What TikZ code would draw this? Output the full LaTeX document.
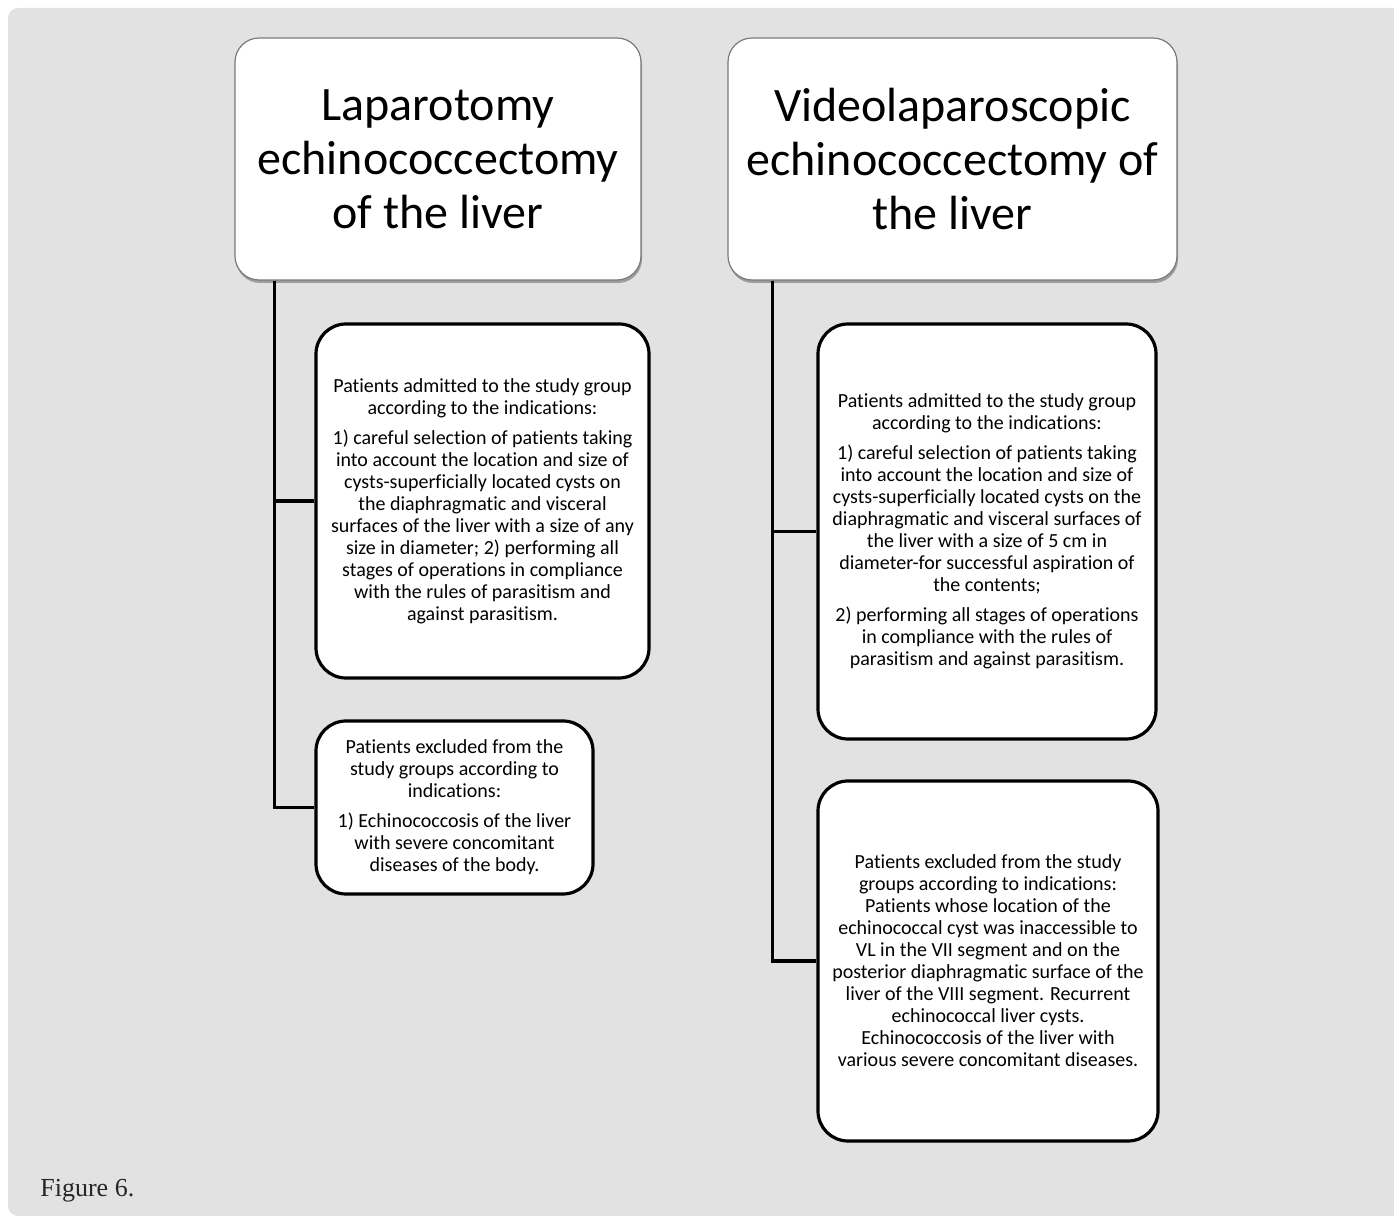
\documentclass[tikz,border=0pt]{standalone}
\usepackage{fontspec}
\setmainfont[Ligatures=NoCommon]{Carlito}
\newfontfamily\capfont{Liberation Serif}
\usetikzlibrary{shadows}
\definecolor{bggray}{HTML}{E2E2E2}
\definecolor{titleborder}{HTML}{7A7A7A}
\begin{document}
\begin{tikzpicture}[x=0.5pt,y=-0.5pt,
  titlebox/.style={draw=titleborder, line width=0.6pt, fill=white, rounded corners=12pt,
    align=center, font=\fontsize{24}{27}\selectfont, inner sep=0pt,
    drop shadow={shadow xshift=0.5pt, shadow yshift=-1.5pt, fill=black, opacity=0.3}},
  infobox/.style={draw=black, line width=1.6pt, fill=white, rounded corners=15pt,
    align=center, font=\fontsize{10}{11}\selectfont, inner sep=0pt},
  conn/.style={draw=black, line width=1.8pt}]
\useasboundingbox (0,0) rectangle (1394,1218);
\fill[bggray, rounded corners=5pt] (8,8) rectangle (1410,1216);

\node[titlebox, minimum width=203pt, minimum height=121pt] (L) at (438,159)
  {Laparotomy\\echinococcectomy\\of the liver};
\node[titlebox, minimum width=224.5pt, minimum height=121pt] (R) at (952.5,159)
  {Videolaparoscopic\\echinococcectomy of\\the liver};

\node[infobox, minimum width=166.5pt, minimum height=177pt] (L1) at (482.5,501)
  {Patients admitted to the study group\\
   according to the indications:\\[4pt]
   1) careful selection of patients taking\\
   into account the location and size of\\
   cysts-superficially located cysts on\\
   the diaphragmatic and visceral\\
   surfaces of the liver with a size of any\\
   size in diameter; 2) performing all\\
   stages of operations in compliance\\
   with the rules of parasitism and\\
   against parasitism.};

\node[infobox, minimum width=138.5pt, minimum height=86.5pt] (L2) at (454.5,807.5)
  {Patients excluded from the\\
   study groups according to\\
   indications:\\[4pt]
   1) Echinococcosis of the liver\\
   with severe concomitant\\
   diseases of the body.};

\node[infobox, minimum width=169pt, minimum height=207.5pt] (R1) at (987,531.5)
  {Patients admitted to the study group\\
   according to the indications:\\[4pt]
   1) careful selection of patients taking\\
   into account the location and size of\\
   cysts-superficially located cysts on the\\
   diaphragmatic and visceral surfaces of\\
   the liver with a size of 5 cm in\\
   diameter-for successful aspiration of\\
   the contents;\\[4pt]
   2) performing all stages of operations\\
   in compliance with the rules of\\
   parasitism and against parasitism.};

\node[infobox, minimum width=170pt, minimum height=180pt] (R2) at (988,961)
  {Patients excluded from the study\\
   groups according to indications:\\
   Patients whose location of the\\
   echinococcal cyst was inaccessible to\\
   VL in the VII segment and on the\\
   posterior diaphragmatic surface of the\\
   liver of the VIII segment. Recurrent\\
   echinococcal liver cysts.\\
   Echinococcosis of the liver with\\
   various severe concomitant diseases.};

\coordinate (ls) at ([xshift=20pt]L.south west);
\coordinate (rs) at ([xshift=22.5pt]R.south west);
\draw[conn] (ls) |- (L2.west);
\draw[conn] (ls) |- (L1.west);
\draw[conn] (rs) |- (R2.west);
\draw[conn] (rs) |- (R1.west);

\node[anchor=base west, font=\capfont\fontsize{13}{15}\selectfont, text=black!85, inner sep=0pt]
  (cap) at (40,1197) {Figure 6.};
\end{tikzpicture}
\end{document}
